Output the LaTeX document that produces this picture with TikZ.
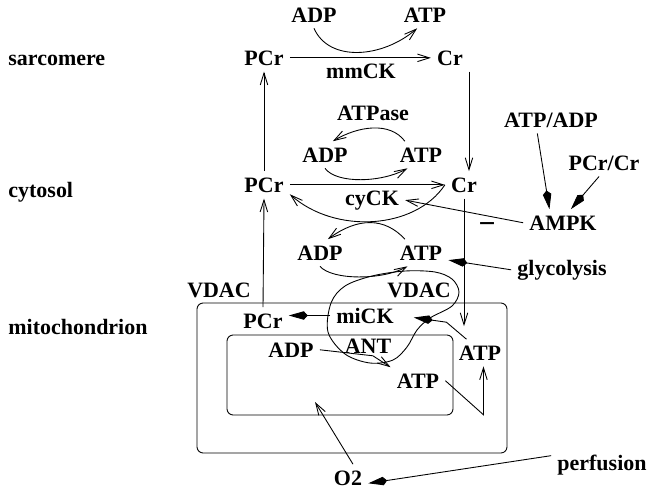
\documentclass[tikz,border=0pt]{standalone}
\usepackage{fontspec}
\setmainfont{Liberation Serif}
\usetikzlibrary{arrows.meta,calc}

\begin{document}
\begin{tikzpicture}[x=0.02cm, y=-0.02cm, line width=0.5pt,
  >={Straight Barb[length=0.24cm,width=0.15cm]},
  lbl/.style={font=\fontsize{12.5}{15}\selectfont\bfseries, anchor=base},
  region/.style={font=\fontsize{12.5}{15}\selectfont\bfseries, anchor=base west, inner sep=0pt},
  kite/.style={-{Kite[length=0.38cm,width=0.17cm,inset=0.08cm]}},
  membrane/.style={draw, rounded corners=3.5pt}]
  \useasboundingbox (0,0) rectangle (651,495);

  % compartments
  \node[region] (sarc) at (8,65) {sarcomere};
  \node[region] (cyto) at (8,197) {cytosol};
  \node[region] (mito) at (8,334) {mitochondrion};

  % sarcomere
  \node[lbl] (adpS) at (314,22) {ADP};
  \node[lbl] (atpS) at (425,22) {ATP};
  \node[lbl] (pcrS) at (264,65) {PCr};
  \node[lbl] (crS) at (450,65) {Cr};
  \node[lbl] (mmck) at (361,78) {mmCK};

  % cytosol
  \node[lbl] (atpase) at (373,120) {ATPase};
  \node[lbl] (adpC) at (325,162) {ADP};
  \node[lbl] (atpC) at (421,162) {ATP};
  \node[lbl] (pcrC) at (264,192) {PCr};
  \node[lbl] (crC) at (464,192) {Cr};
  \node[lbl] (cyck) at (372,205) {cyCK};
  \node[lbl] (adpL) at (320,260) {ADP};
  \node[lbl] (atpL) at (421,260) {ATP};
  \node[lbl] (atpadp) at (551,127) {ATP/ADP};
  \node[lbl] (pcrcr) at (604,170) {PCr/Cr};
  \node[lbl] (ampk) at (563,230) {AMPK};
  \node[lbl, font=\fontsize{17}{17}\selectfont\bfseries] (minus) at (487,233) {−};
  \node[lbl] (glyc) at (562,275) {glycolysis};

  % mitochondrion
  \draw[membrane] (197,303) rectangle (507,453);
  \draw[membrane] (227,335) rectangle (453,415);
  \coordinate (mtx) at (315,402);
  \node[lbl] (vdacL) at (219,297) {VDAC};
  \node[lbl] (vdacR) at (419,297) {VDAC};
  \node[lbl] (pcrM) at (263,328) {PCr};
  \node[lbl] (mick) at (365,323) {miCK};
  \node[lbl] (adpM) at (291,357) {ADP};
  \node[lbl] (ant) at (368,353) {ANT};
  \node[lbl] (atpI) at (418,388) {ATP};
  \node[lbl] (atpM) at (480,360) {ATP};
  \node[lbl] (o2) at (348,485) {O2};
  \node[lbl] (perf) at (602,470) {perfusion};

  % creatine shuttle
  \draw[->] (pcrS) -- (crS);
  \draw[->] (adpS.south) .. controls +(15,34) and +(-35,30) .. (atpS.240);
  \draw[->] (pcrC.north) -- (pcrS.south);
  \draw[->] (crC.70 |- crS.south) -- (crC.70);
  \draw[->] (atpC.140) .. controls +(-15,-20) and +(25,-15) .. (adpC.60);
  \draw[->] (adpC.south) .. controls +(12,16) and +(-25,14) .. (atpC.225);
  \draw[->] (pcrC) -- (crC);
  \draw[->] (crC.west) .. controls +(-30,45) and +(45,40) .. (pcrC.-20);
  \draw[->] (atpL.140) .. controls +(-20,-22) and +(30,-22) .. (adpL.60);
  \draw[->] (adpL.south) .. controls +(12,14) and +(-25,14) .. (atpL.225);
  \draw[->, shorten >=0.26cm] (crC.south) -- (crC.south |- atpM.north);
  \draw[->] (pcrM.north) -- (pcrC.south);

  % regulation
  \draw[kite] (atpadp.225) -- (ampk.135);
  \draw[kite] (pcrcr.250) -- (ampk.60);
  \draw[->] (ampk.west) -- (cyck.east);
  \draw[kite] (glyc.west) -- (atpL.-15);

  % inside mitochondrion
  \draw plot[smooth cycle, tension=0.55] coordinates {(430,318) (417,330) (407,347) (393,360) (370,363) (345,354) (328,332) (331,303) (345,286) (372,276) (405,271) (435,272) (452,279) (459,292) (452,306)};
  \draw[kite] (mick.west) -- (mick.west -| pcrM.east);
  \draw[kite, shorten >=0.28cm] (atpM.135) -- ++(-20,-17) -- (mick.east);
  \draw[->] (adpM.east) -- ++(53,6) -- (atpI.north west);
  \draw[->] (atpI.east) -- ++(38,34) coordinate (bend) -- (bend |- atpM.south);
  \draw[->] (o2.70) -- (mtx);
  \draw[kite] (perf.170) -- (o2.-15);
\end{tikzpicture}
\end{document}
